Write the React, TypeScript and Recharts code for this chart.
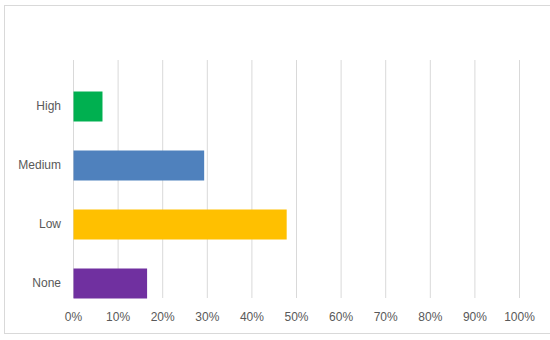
import React from 'react';
import { BarChart, Bar, XAxis, YAxis, CartesianGrid, Cell } from 'recharts';

const categories = ['High', 'Medium', 'Low', 'None'];
const values = [0.065, 0.293, 0.478, 0.165];
const colors = ['#00B050', '#4F81BD', '#FFC000', '#7030A0'];
const xTicks = [0, 0.1, 0.2, 0.3, 0.4, 0.5, 0.6, 0.7, 0.8, 0.9, 1.0];

const data = categories.map((c, i) => ({ name: c, value: values[i] }));

const font = { fontFamily: '"Liberation Sans", Arial, sans-serif', fontSize: 12, fill: '#595959' };

export default function App() {
  return (
    <div
      style={{
        position: 'fixed',
        left: 0,
        top: 0,
        width: 550,
        height: 340,
        overflow: 'hidden',
        background: '#fff',
      }}
    >
      <div
        style={{
          position: 'absolute',
          left: 4,
          top: 5,
          width: 580,
          height: 327,
          border: '1px solid #D9D9D9',
          boxSizing: 'content-box',
        }}
      />
      <div style={{ position: 'absolute', left: 0, top: 0 }}>
        <BarChart
          width={550}
          height={340}
          data={data}
          layout="vertical"
          margin={{ top: 60, right: 30.5, bottom: 12, left: 0 }}
        >
          <CartesianGrid horizontal={false} stroke="#D9D9D9" strokeWidth={1} />
          <XAxis
            type="number"
            domain={[0, 1]}
            ticks={xTicks}
            tickFormatter={(v: number) => `${Math.round(v * 100)}%`}
            axisLine={false}
            tickLine={false}
            tickSize={0}
            tickMargin={14.5}
            height={30}
            tick={font}
            interval={0}
          />
          <YAxis
            type="category"
            dataKey="name"
            axisLine={false}
            tickLine={false}
            tickSize={0}
            tickMargin={12.5}
            width={73.5}
            tick={font}
            padding={{ top: 16.5, bottom: -14.5 }}
          />
          <Bar dataKey="value" barSize={30} isAnimationActive={false}>
            {data.map((d, i) => (
              <Cell key={d.name} fill={colors[i]} />
            ))}
          </Bar>
        </BarChart>
      </div>
    </div>
  );
}
